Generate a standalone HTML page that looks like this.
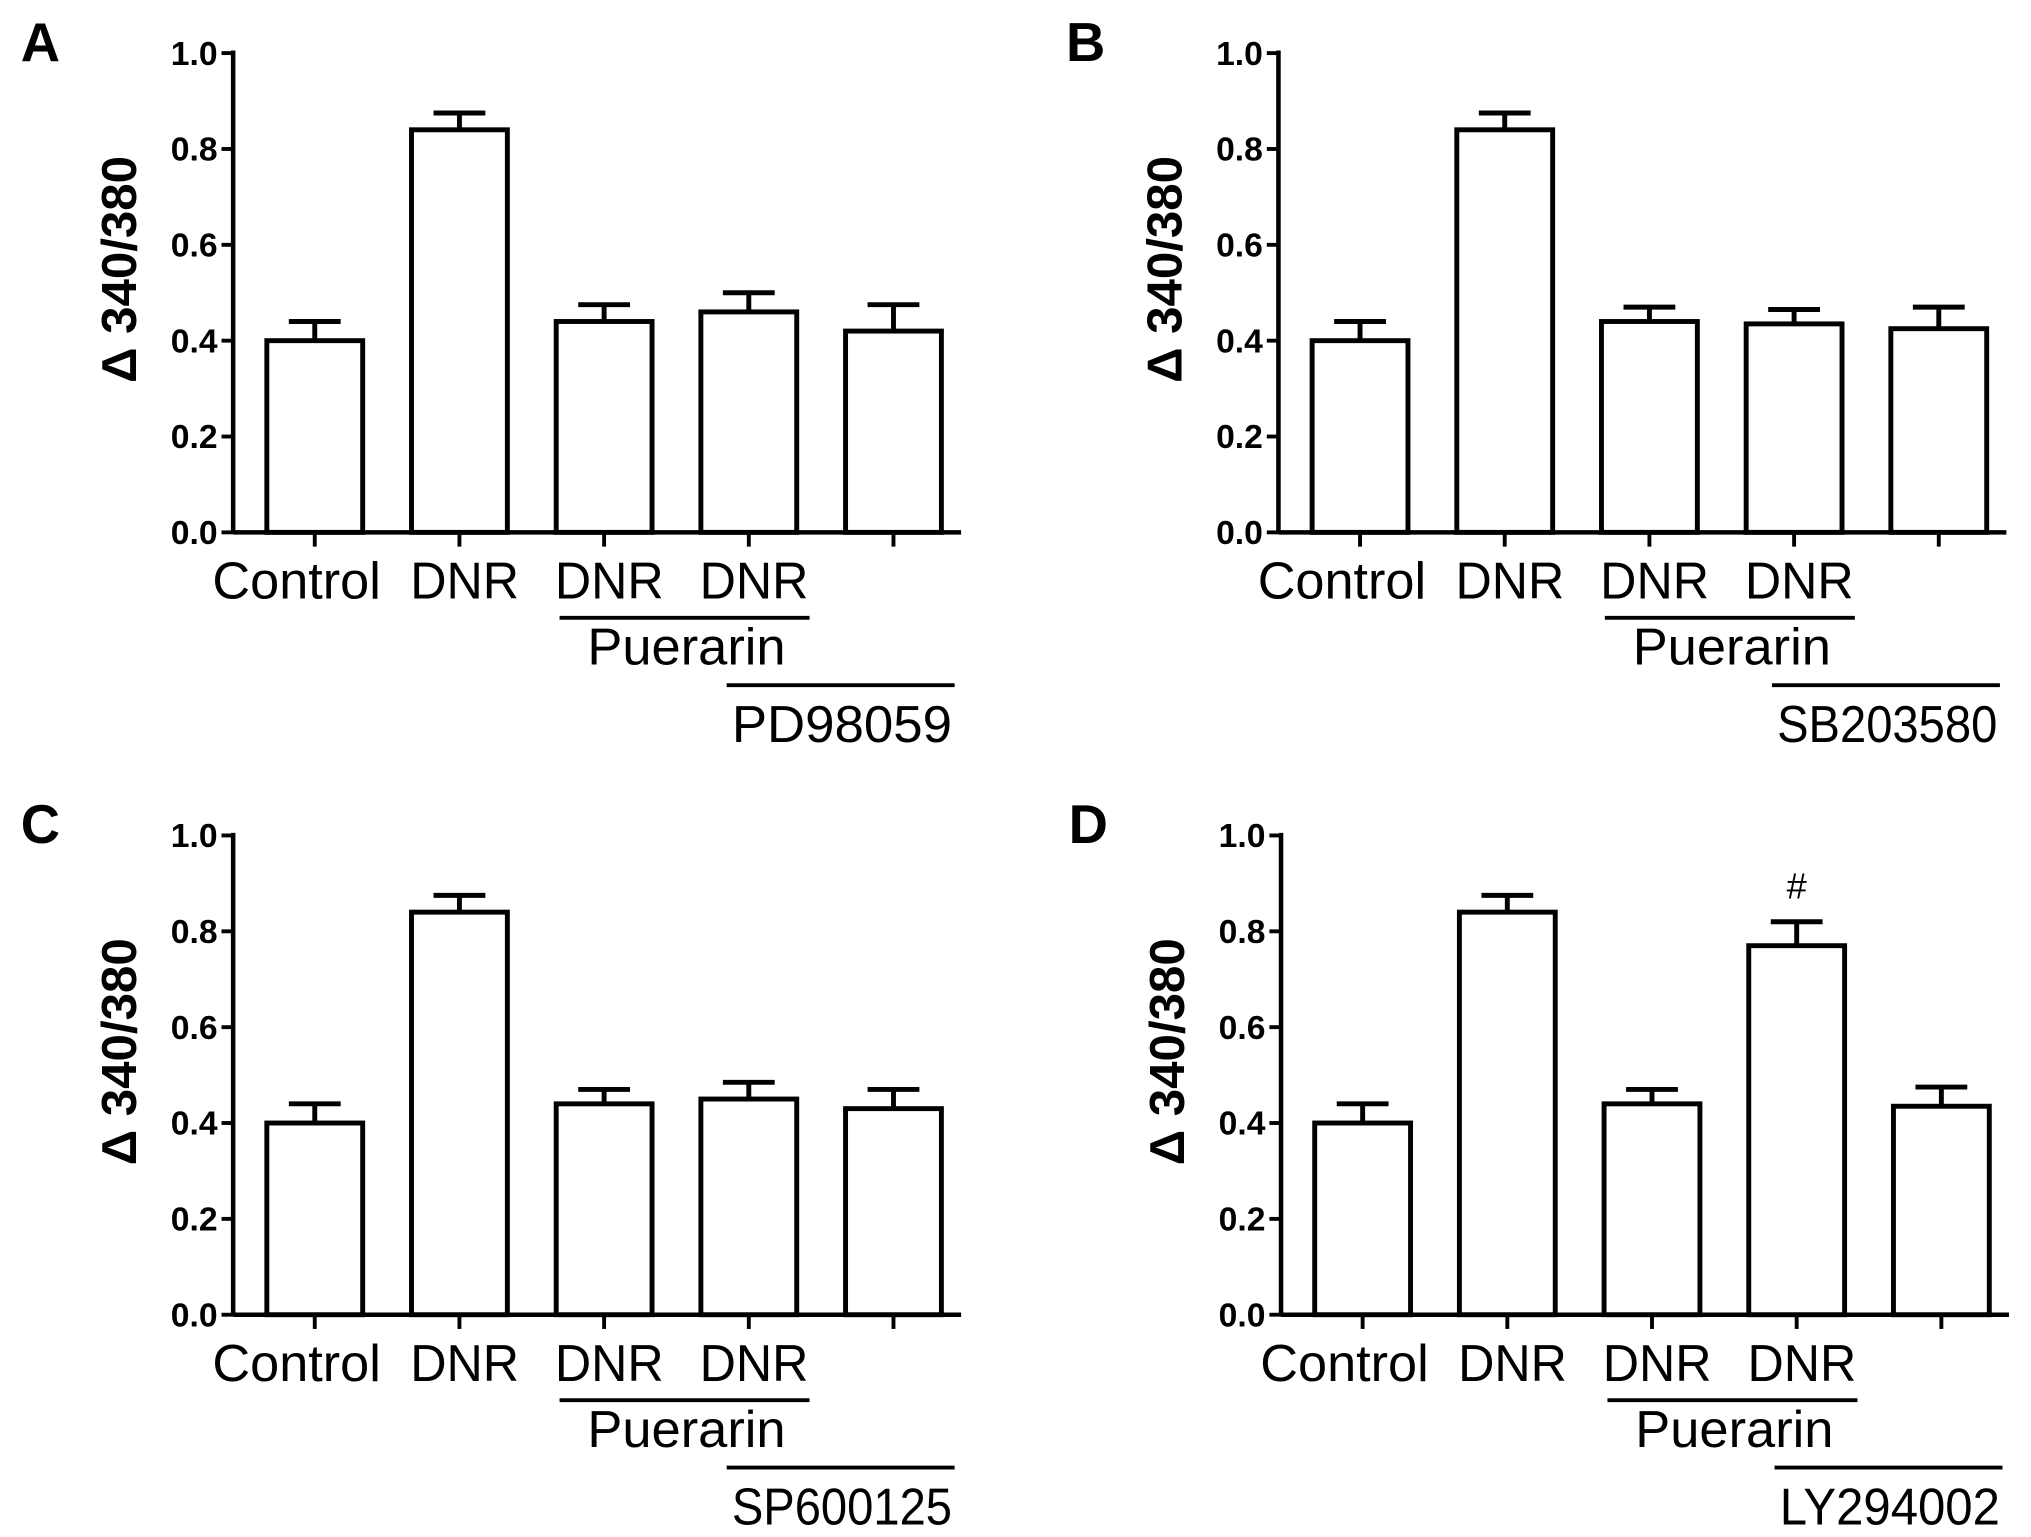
<!DOCTYPE html>
<html><head><meta charset="utf-8"><style>html,body{margin:0;padding:0;background:#fff}svg{display:block}</style></head>
<body>
<svg id="fig" width="2031" height="1537" viewBox="0 0 1568 1186.6" xmlns="http://www.w3.org/2000/svg" font-family="Liberation Sans, sans-serif"></svg>
<script>
const categories = ["Control","DNR","DNR","DNR",""];
const panelLetters = ["A","B","C","D"];
const inhibitors = ["PD98059","SB203580","SP600125","LY294002"];
const meansA = [0.40,0.84,0.44,0.46,0.42];
const errA   = [0.04,0.035,0.035,0.04,0.055];
const meansB = [0.40,0.84,0.44,0.435,0.425];
const errB   = [0.04,0.035,0.03,0.03,0.045];
const meansC = [0.40,0.84,0.44,0.45,0.43];
const errC   = [0.04,0.035,0.03,0.035,0.04];
const meansD = [0.40,0.84,0.44,0.77,0.435];
const errD   = [0.04,0.035,0.03,0.05,0.04];
const yTicks = [0.0,0.2,0.4,0.6,0.8,1.0];
const tickLabels = ["0.0","0.2","0.4","0.6","0.8","1.0"];
const means = [meansA,meansB,meansC,meansD];
const errs = [errA,errB,errC,errD];

const NS="http://www.w3.org/2000/svg";
const svg=document.getElementById('fig');
function mk(tag,attrs,parent,txt){const e=document.createElementNS(NS,tag);for(const k in attrs)e.setAttribute(k,attrs[k]);if(txt!==undefined)e.textContent=txt;parent.appendChild(e);return e;}
const offsets=[[0,0],[807,0],[0,604],[809,604]];
for(let p=0;p<4;p++){
  const [dx,dy]=offsets[p];
  const g=mk('g',{transform:`translate(${dx},${dy})`},svg);
  
  
  const ax=180, y0=411, y1=41;
  const yS=v=>y0-(y0-y1)*v;
  const xC=i=>243+i*111.7;
  const bw=74;
  const lt=mk('text',{x:16,y:47,'font-size':42,'font-weight':'bold'},g,panelLetters[p]);
  
  
  const ya=mk('line',{x1:ax,y1:y1-2,x2:ax,y2:y0,stroke:'#000','stroke-width':3.5},g);
  
  
  yTicks.forEach((v,i)=>{
    const tk=mk('line',{x1:ax-9,y1:yS(v),x2:ax,y2:yS(v),stroke:'#000','stroke-width':3},g);
    
    
    const tl=mk('text',{x:ax-12,y:yS(v)+9,'font-size':26,'font-weight':'bold','text-anchor':'end'},g,tickLabels[i]);
    
    
  });
  const yt=mk('text',{x:0,y:0,'font-size':38,'font-weight':'bold','text-anchor':'middle',transform:`translate(105,208) rotate(-90)`},g,'Δ 340/380');
  
  
  const xa=mk('line',{x1:ax,y1:y0,x2:742,y2:y0,stroke:'#000','stroke-width':3.5},g);
  
  
  means[p].forEach((m,i)=>{
    const cx=xC(i);
    const e=errs[p][i];
    const eb=mk('path',{d:`M${cx},${yS(m)} V${yS(m+e)} M${cx-20},${yS(m+e)} H${cx+20}`,stroke:'#000','stroke-width':3.8,fill:'none'},g);
    
    
    const r=mk('rect',{x:cx-bw/2,y:yS(m),width:bw,height:y0-yS(m),fill:'#fff',stroke:'#000','stroke-width':3.8},g);
    
    
    const xt=mk('line',{x1:cx,y1:y0,x2:cx,y2:y0+11,stroke:'#000','stroke-width':3},g);
    
    
    if(categories[i]){
      const isC=categories[i]==='Control';
      const w=isC?130:84;
      const lx=isC?cx-14:cx+4;
      const cl=mk('text',{x:lx,y:462,'font-size':40,'text-anchor':'middle',textLength:w,lengthAdjust:'spacingAndGlyphs'},g,categories[i]);
      
      
    }
  });
  if(p===3){
    const h=mk('text',{x:xC(3),y:yS(meansD[3]+errD[3])-18,'font-size':28,'text-anchor':'middle'},g,'#');
    
    
  }
  const l1=mk('line',{x1:432,y1:477,x2:625,y2:477,stroke:'#000','stroke-width':3},g);
  
  
  const pt=mk('text',{x:530,y:513,'font-size':40,'text-anchor':'middle',textLength:153,lengthAdjust:'spacingAndGlyphs'},g,'Puerarin');
  
  
  const l2=mk('line',{x1:561,y1:529,x2:737,y2:529,stroke:'#000','stroke-width':3},g);
  
  
  const it=mk('text',{x:735,y:573,'font-size':40,'text-anchor':'end',textLength:170,lengthAdjust:'spacingAndGlyphs'},g,inhibitors[p]);
  
  
}
</script>
</body></html>
